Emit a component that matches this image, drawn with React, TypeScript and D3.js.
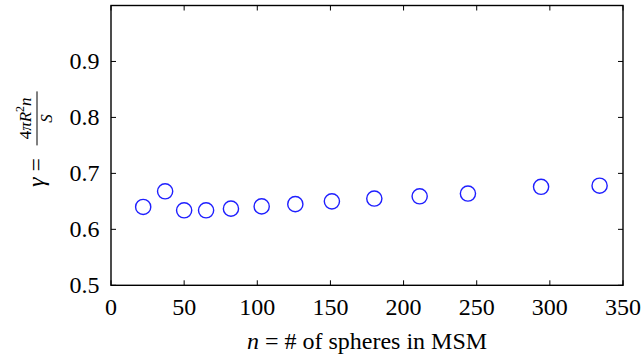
import React from "react";
import * as d3 from "d3";

const nValues = [22, 37, 50, 65, 82, 103, 126, 151, 180, 211, 244, 294, 334];
const gammaValues = [0.64, 0.668, 0.634, 0.634, 0.637, 0.641, 0.645, 0.65, 0.655, 0.659, 0.664, 0.676, 0.678];
const xTicks = [0, 50, 100, 150, 200, 250, 300, 350];
const yTicks = [0.5, 0.6, 0.7, 0.8, 0.9, 1.0];
const yTickLabels = ["0.5", "0.6", "0.7", "0.8", "0.9", ""];

const W = 643;
const H = 360;
const left = 111;
const right = 623;
const top = 5.5;
const bottom = 285.3;
const FF = "Liberation Serif";

export default function App() {
  const x = d3.scaleLinear().domain([0, 350]).range([left, right]);
  const y = d3.scaleLinear().domain([0.5, 1.0]).range([bottom, top]);
  const tl = 5;
  const cy = (top + bottom) / 2;
  return (
    <svg width={W} height={H} fontFamily={FF} style={{ position: "absolute", left: 0, top: 0, background: "#fff", fontFamily: FF }}>
      <rect x={0} y={0} width={W} height={H} fill="#fff" />
      {xTicks.map((t) => (
        <line key={"xb" + t} x1={x(t)} x2={x(t)} y1={bottom} y2={bottom - tl} stroke="#000" strokeWidth={1} />
      ))}
      {xTicks.map((t) => (
        <line key={"xtp" + t} x1={x(t)} x2={x(t)} y1={top} y2={top + tl} stroke="#000" strokeWidth={1} />
      ))}
      {yTicks.map((t) => (
        <line key={"yl" + t} x1={left} x2={left + tl} y1={y(t)} y2={y(t)} stroke="#000" strokeWidth={1} />
      ))}
      {yTicks.map((t) => (
        <line key={"yr" + t} x1={right} x2={right - tl} y1={y(t)} y2={y(t)} stroke="#000" strokeWidth={1} />
      ))}
      <rect x={left} y={top} width={right - left} height={bottom - top} fill="none" stroke="#000" strokeWidth={1.4} />
      {nValues.map((n, i) => (
        <circle key={"c" + i} cx={x(n)} cy={y(gammaValues[i])} r={7.6} fill="none" stroke="#1f1fff" strokeWidth={1.4} />
      ))}
      {xTicks.map((t) => (
        <text key={"xl" + t} x={x(t)} y={315} textAnchor="middle" fontFamily={FF} fontSize={24}>
          {String(t)}
        </text>
      ))}
      {yTicks.map((t, i) => (
        <text key={"ylab" + t} x={99.5} y={y(t) + 7.5} textAnchor="end" fontFamily={FF} fontSize={24}>
          {yTickLabels[i]}
        </text>
      ))}
      <text x={(left + right) / 2} y={349} textAnchor="middle" fontFamily={FF} fontSize={24}>
        <tspan fontStyle="italic">n</tspan>
        <tspan>{"  =  # of spheres in MSM"}</tspan>
      </text>
      <g transform={`translate(0,${cy}) rotate(-90)`}>
        <text x={-27} y={44} textAnchor="middle" fontFamily={FF} fontSize={24}>
          <tspan fontStyle="italic">γ</tspan>
          <tspan>{" ="}</tspan>
        </text>
        <line x1={0} x2={54} y1={37} y2={37} stroke="#000" strokeWidth={1} />
        <text x={27} y={31} textAnchor="middle" fontFamily={FF} fontSize={17}>
          <tspan>4</tspan>
          <tspan fontStyle="italic">πR</tspan>
          <tspan fontSize={12} dy={-7}>2</tspan>
          <tspan fontStyle="italic" dy={7}>n</tspan>
        </text>
        <text x={27} y={52} textAnchor="middle" fontFamily={FF} fontSize={17} fontStyle="italic">
          S
        </text>
      </g>
    </svg>
  );
}
